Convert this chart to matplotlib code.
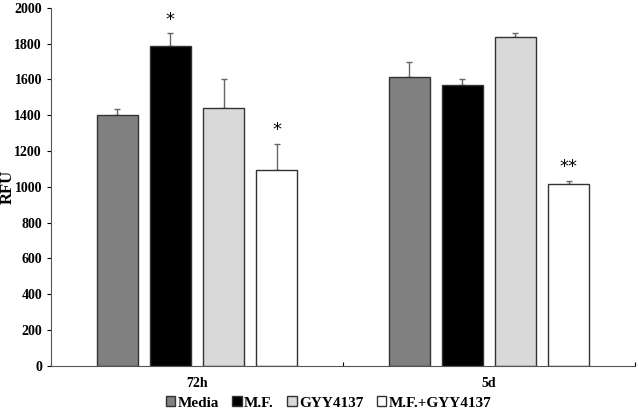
import numpy as np
import matplotlib.pyplot as plt

groups = ['72h', '5d']
series = ['Media', 'M.F.', 'GYY4137', 'M.F.+GYY4137']
colors = ['#808080', '#000000', '#d9d9d9', '#ffffff']

values = np.array([[1404, 1789, 1443, 1097],
                   [1613, 1570, 1836, 1017]])
errors = np.array([[33, 69, 160, 143],
                   [85, 33, 24, 18]])
stars = [['', '*', '', '*'],
         ['', '', '', '**']]

plt.rcParams['font.family'] = ['Liberation Serif', 'DejaVu Serif']
plt.rcParams['font.weight'] = 'bold'

fig = plt.figure(figsize=(6.38, 4.13), dpi=100)
ax = fig.add_axes([0.08, 0.114, 0.915, 0.867])

width = 0.14
gap = 0.042
step = width + gap
centers = np.arange(len(groups)) + 0.5
for i, name in enumerate(series):
    xpos = centers + (i - 1.5) * step
    ax.bar(xpos, values[:, i], width, color=colors[i], edgecolor='#333333',
           linewidth=1, label=name, zorder=2)
    ax.errorbar(xpos, values[:, i], yerr=[np.zeros(len(groups)), errors[:, i]],
                fmt='none', ecolor='#666666', elinewidth=1, capsize=2.5,
                capthick=1, zorder=1)
    for j in range(len(groups)):
        if stars[j][i]:
            ax.text(xpos[j], values[j, i] + errors[j, i] + 25, stars[j][i],
                    ha='center', va='bottom', fontsize=13, fontweight='normal',
                    family='DejaVu Sans')

ax.set_xlim(0, 2)
ax.set_ylim(0, 2000)
ax.set_yticks(np.arange(0, 2001, 200))
ax.set_xticks([0, 1, 2])
ax.set_xticklabels([])
ax.set_xticks(centers, minor=True)
ax.set_xticklabels(groups, minor=True, fontsize=10, fontweight='bold')
ax.tick_params(axis='x', which='minor', length=0, pad=8)
ax.tick_params(axis='x', which='major', direction='in', length=3)
ax.tick_params(axis='y', direction='out', length=3, labelsize=10)
for lab in ax.get_yticklabels():
    lab.set_fontweight('bold')
ax.set_ylabel('RFU', fontsize=12, fontweight='bold')
ax.yaxis.set_label_coords(-0.06, 0.5)
for s in ['top', 'right']:
    ax.spines[s].set_visible(False)
for s in ['left', 'bottom']:
    ax.spines[s].set_color('#555555')

fig.legend(loc='lower center', bbox_to_anchor=(0.515, -0.025), ncol=4,
           frameon=False, handlelength=0.6, handleheight=0.6,
           handletextpad=0.15, columnspacing=0.9,
           prop={'weight': 'bold', 'size': 11})

fig.savefig('out.png', dpi=100)
